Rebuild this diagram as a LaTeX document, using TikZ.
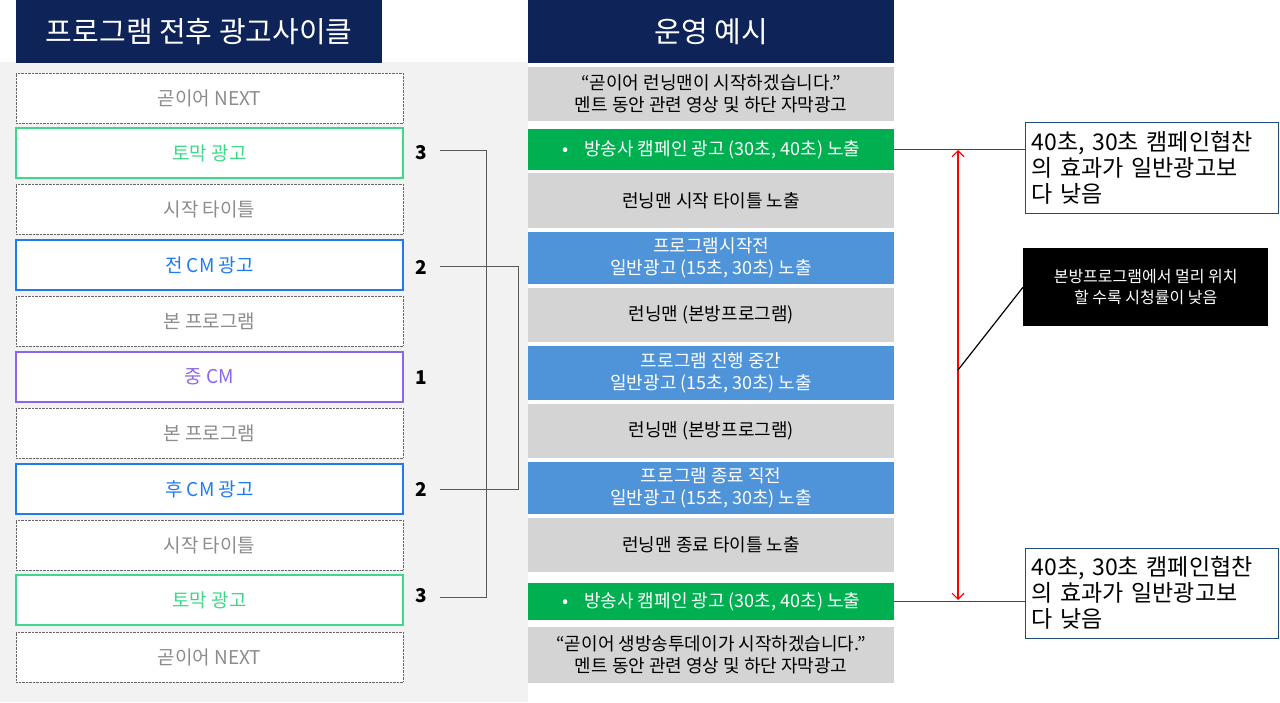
\documentclass[tikz,border=0pt]{standalone}
\usepackage{fontspec}
\setmainfont{Noto Sans CJK KR}
\usetikzlibrary{arrows.meta}
\definecolor{navy}{HTML}{0E2358}
\definecolor{lbg}{HTML}{F2F2F2}
\definecolor{rgray}{HTML}{D4D4D4}
\definecolor{rgreen}{HTML}{00B050}
\definecolor{rblue}{HTML}{4F93D8}
\definecolor{lgreen}{HTML}{3FD88A}
\definecolor{lblue}{HTML}{1E7BF0}
\definecolor{lpurple}{HTML}{8B65EA}
\definecolor{teal}{HTML}{1F4E79}
\tikzset{x=1pt,y=-1pt,
 lbox/.style={draw=gray!80!black,densely dotted,fill=white,minimum width=387pt,minimum height=50pt,anchor=center,text=gray!90,font=\fontsize{19}{22}\selectfont},
 cbox/.style={lbox,solid,line width=1.6pt,draw=#1,text=#1},
 rrow/.style={fill=#1,minimum width=366pt,anchor=north west,align=center,font=\fontsize{18}{22}\selectfont,inner sep=0pt},
 num/.style={font=\bfseries\fontsize{19}{22}\selectfont},
 br/.style={draw=gray!70!black,line width=1pt},
 note/.style={draw=teal,fill=white,minimum width=253pt,anchor=north west,text width=240pt,align=left,font=\fontsize{23}{26}\selectfont,inner sep=6pt},
 hdr/.style={fill=navy,text=white,font=\fontsize{29}{32}\selectfont,anchor=north west,inner sep=0pt}}
\begin{document}
\begin{tikzpicture}
\useasboundingbox (0,0) rectangle (1280,702);
\fill[lbg] (0,62) rectangle (528,702);
\node[hdr,minimum width=366pt,minimum height=63pt] (h1) at (16,0) {프로그램 전후 광고사이클};
\node[hdr,minimum width=366pt,minimum height=63pt] (h2) at (528,0) {운영 예시};
% left
\node[lbox] (l1) at (209.5,98) {곧이어 NEXT};
\node[cbox=lgreen] (l2) at (209.5,153) {토막 광고};
\node[lbox] (l3) at (209.5,209) {시작 타이틀};
\node[cbox=lblue] (l4) at (209.5,265) {전 CM 광고};
\node[lbox] (l5) at (209.5,321) {본 프로그램};
\node[cbox=lpurple] (l6) at (209.5,377) {중 CM};
\node[lbox] (l7) at (209.5,433) {본 프로그램};
\node[cbox=lblue] (l8) at (209.5,489) {후 CM 광고};
\node[lbox] (l9) at (209.5,545) {시작 타이틀};
\node[cbox=lgreen] (l10) at (209.5,600) {토막 광고};
\node[lbox] (l11) at (209.5,657) {곧이어 NEXT};
\node[num] (n1) at (421,153) {3};
\node[num] (n2) at (421,267) {2};
\node[num] (n3) at (421,378) {1};
\node[num] (n4) at (421,489) {2};
\node[num] (n5) at (421,596) {3};
\coordinate (b1) at (440,150); \coordinate (b2) at (440,597);
\coordinate (c1) at (440,266); \coordinate (c2) at (440,489);
\draw[br] (b1) -- (486,150) -- (486,597) -- (b2);
\draw[br] (c1) -- (518,266) -- (518,489) -- (c2);
% right
\node[rrow=rgray,minimum height=54pt] (r1) at (528,67) {“곧이어 런닝맨이 시작하겠습니다.”\\멘트 동안 관련 영상 및 하단 자막광고};
\node[rrow=rgreen,minimum height=41pt,text=white] (r2) at (528,129) {•\hspace{16pt}방송사 캠페인 광고 (30초, 40초) 노출};
\node[rrow=rgray,minimum height=55pt] (r3) at (528,173) {런닝맨 시작 타이틀 노출};
\node[rrow=rblue,minimum height=52pt,text=white] (r4) at (528,232) {프로그램시작전\\일반광고 (15초, 30초) 노출};
\node[rrow=rgray,minimum height=54pt] (r5) at (528,288) {런닝맨 (본방프로그램)};
\node[rrow=rblue,minimum height=54pt,text=white] (r6) at (528,346) {프로그램 진행 중간\\일반광고 (15초, 30초) 노출};
\node[rrow=rgray,minimum height=54pt] (r7) at (528,404) {런닝맨 (본방프로그램)};
\node[rrow=rblue,minimum height=52pt,text=white] (r8) at (528,462) {프로그램 종료 직전\\일반광고 (15초, 30초) 노출};
\node[rrow=rgray,minimum height=54pt] (r9) at (528,518) {런닝맨 종료 타이틀 노출};
\node[rrow=rgreen,minimum height=37pt,text=white] (r10) at (528,583) {•\hspace{16pt}방송사 캠페인 광고 (30초, 40초) 노출};
\node[rrow=rgray,minimum height=56pt] (r11) at (528,627) {“곧이어 생방송투데이가 시작하겠습니다.”\\멘트 동안 관련 영상 및 하단 자막광고};
% notes
\node[note,minimum height=91pt] (t1) at (1025,122) {40초, 30초 캠페인협찬\\의 효과가 일반광고보\\다 낮음};
\node[note,minimum height=90pt] (t2) at (1025,548) {40초, 30초 캠페인협찬\\의 효과가 일반광고보\\다 낮음};
\node[fill=black,text=white,minimum width=245pt,minimum height=78pt,anchor=north west,align=center,font=\fontsize{16}{21}\selectfont] (t3) at (1023,248) {본방프로그램에서 멀리 위치\\할 수록 시청률이 낮음};
\draw[teal,line width=1.2pt] (r2.east) -- (t1.west |- r2.east);
\draw[teal,line width=1.2pt] (r10.east) -- (t2.west |- r10.east);
\coordinate (a1) at (958,150); \coordinate (a2) at (958,600); \coordinate (a3) at (958,370);
\draw[red,line width=1.2pt,{Straight Barb[length=6pt]}-{Straight Barb[length=6pt]}] (a1) -- (a2);
\draw[black,line width=1.2pt] (a3) -- (t3.west);
\end{tikzpicture}
\end{document}
